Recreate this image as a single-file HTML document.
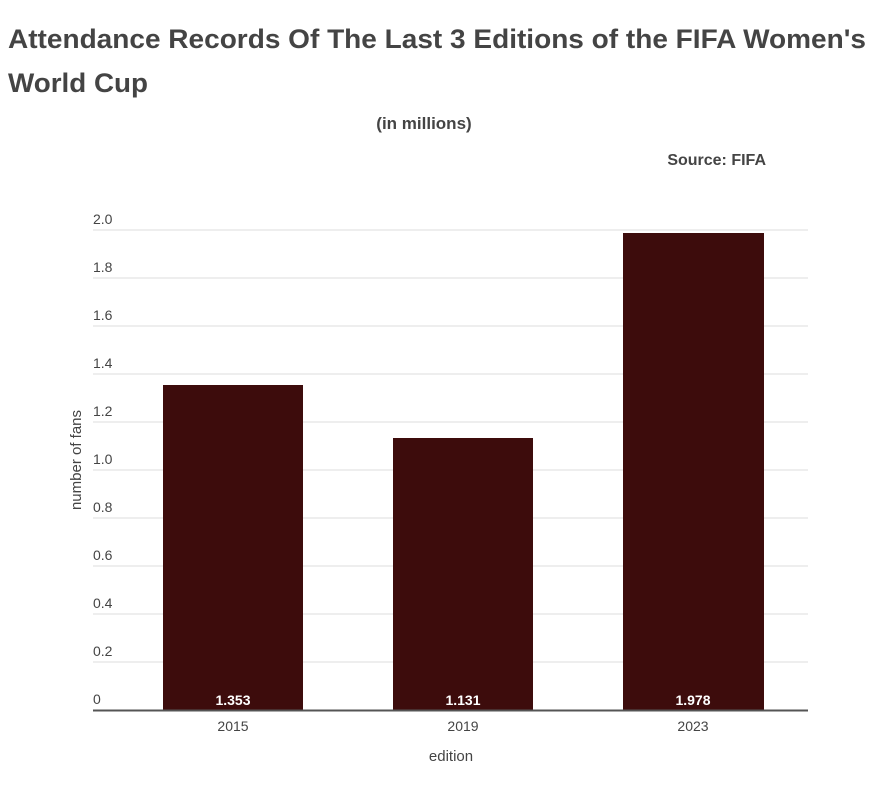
<!DOCTYPE html>
<html><head><meta charset="utf-8"><style>
body{margin:0;background:#fff;width:871px;height:783px;overflow:hidden;font-family:"Liberation Sans",Arial,sans-serif;}
</style></head><body>
<svg width="871" height="783" xmlns="http://www.w3.org/2000/svg" font-family="Liberation Sans, Arial, sans-serif">
<text x="8" y="48" font-size="27" font-weight="bold" fill="#444" textLength="858" lengthAdjust="spacingAndGlyphs">Attendance Records Of The Last 3 Editions of the FIFA Women's</text>
<text x="8" y="92" font-size="27" font-weight="bold" fill="#444" textLength="140" lengthAdjust="spacingAndGlyphs">World Cup</text>
<text x="424" y="129" font-size="17" font-weight="bold" fill="#444" text-anchor="middle">(in millions)</text>
<text x="766" y="165" font-size="16" font-weight="bold" fill="#444" text-anchor="end">Source: FIFA</text>
<g stroke="#ddd" stroke-width="1">
<line x1="93" x2="808" y1="230" y2="230"/><line x1="93" x2="808" y1="278" y2="278"/>
<line x1="93" x2="808" y1="326" y2="326"/><line x1="93" x2="808" y1="374" y2="374"/>
<line x1="93" x2="808" y1="422" y2="422"/><line x1="93" x2="808" y1="470" y2="470"/>
<line x1="93" x2="808" y1="518" y2="518"/><line x1="93" x2="808" y1="566" y2="566"/>
<line x1="93" x2="808" y1="614" y2="614"/><line x1="93" x2="808" y1="662" y2="662"/>
</g>
<g font-size="14" fill="#444">
<text x="93" y="224">2.0</text><text x="93" y="272">1.8</text><text x="93" y="320">1.6</text>
<text x="93" y="368">1.4</text><text x="93" y="416">1.2</text><text x="93" y="464">1.0</text>
<text x="93" y="512">0.8</text><text x="93" y="560">0.6</text><text x="93" y="608">0.4</text>
<text x="93" y="656">0.2</text><text x="93" y="704">0</text>
</g>
<g fill="#3d0c0c">
<rect x="163" y="385" width="140" height="325"/>
<rect x="393" y="438" width="140" height="272"/>
<rect x="623" y="233" width="141" height="477"/>
</g>
<line x1="93" x2="808" y1="710.5" y2="710.5" stroke="#555" stroke-width="2"/>
<g font-size="14" font-weight="bold" fill="#fff" text-anchor="middle">
<text x="233" y="705">1.353</text><text x="463" y="705">1.131</text><text x="693" y="705">1.978</text>
</g>
<g font-size="14" fill="#444" text-anchor="middle">
<text x="233" y="731">2015</text><text x="463" y="731">2019</text><text x="693" y="731">2023</text>
<text x="451" y="761" font-size="15">edition</text>
<text transform="translate(81,460) rotate(-90)" font-size="15">number of fans</text>
</g>
</svg>
</body></html>
